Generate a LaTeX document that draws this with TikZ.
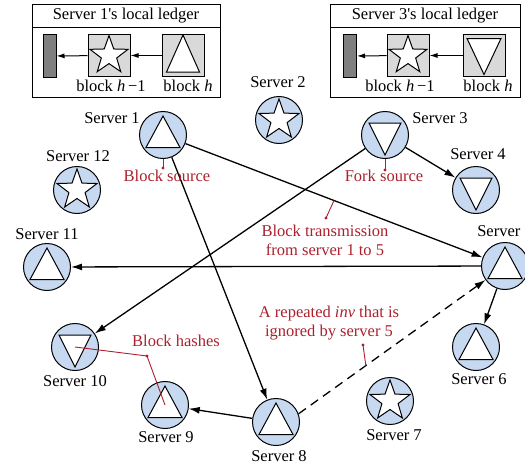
\documentclass[tikz,border=0pt]{standalone}
\usepackage{fontspec}
\setmainfont{Liberation Serif}
\usetikzlibrary{arrows.meta}
\definecolor{srvblue}{RGB}{198,217,240}
\definecolor{notered}{RGB}{172,32,45}
\definecolor{blkgray}{RGB}{217,217,217}
\definecolor{bargray}{RGB}{127,127,127}
\begin{document}
\begin{tikzpicture}[x=1pt,y=-1pt,
  every node/.style={font=\fontsize{16.5}{19}\selectfont},
  server/.style={circle,draw,line width=1pt,fill=srvblue,minimum size=47pt,inner sep=0pt},
  link/.style={line width=1.3pt,-{Latex[length=11pt,width=7pt]}},
  note/.style={color=notered,align=center},
  leader/.style={color=notered,line width=0.9pt},
  blk/.style={draw,line width=1pt,fill=blkgray,minimum size=42pt,inner sep=0pt},
  bar/.style={draw,line width=1pt,fill=bargray,minimum width=13pt,minimum height=43pt,inner sep=0pt},
  chain/.style={line width=1pt,-{Latex[length=8pt,width=5pt]}},
  upsym/.pic={\draw[line width=1pt,fill=white] (0,-19) -- (17,12.5) -- (-17,12.5) -- cycle;},
  downsym/.pic={\draw[line width=1pt,fill=white] (0,20) -- (16,-12) -- (-16,-12) -- cycle;},
  lupsym/.pic={\draw[line width=1pt,fill=white] (0,-20.5) -- (16.5,16.5) -- (-16.5,16.5) -- cycle;},
  ldownsym/.pic={\draw[line width=1pt,fill=white] (0,19) -- (17,-17) -- (-17,-17) -- cycle;},
  starsym/.pic={\draw[line width=1pt,fill=white] (-90:21) -- (-54:8.5) -- (-18:21) -- (18:8.5) -- (54:21)
     -- (90:8.5) -- (126:21) -- (162:8.5) -- (198:21) -- (234:8.5) -- cycle;}
]
  \useasboundingbox (0,0) rectangle (525,466);

  % local ledgers
  \draw[line width=1pt] (32,4.5) rectangle (220,97);
  \draw[line width=1pt] (32,27.5) -- (220,27.5);
  \node (t1) at (126,16) {Server 1\textquotesingle s local ledger};
  \node[bar] (l1g) at (49.5,56) {};
  \node[blk] (l1b) at (109,55.5) {};
  \node[blk] (l1h) at (183,55.5) {};
  \pic[scale=0.95] at (l1b) {starsym};
  \pic at (l1h) {lupsym};
  \draw[chain] (l1b) -- (l1g);
  \draw[chain] (l1h) -- (l1b);
  \node (l1bl) at (111,86) {block \textit{h}\,−1};
  \node (l1hl) at (188,86) {block \textit{h}};

  \draw[line width=1pt] (330,4.5) rectangle (520,97);
  \draw[line width=1pt] (330,27.5) -- (520,27.5);
  \node (t3) at (425,16) {Server 3\textquotesingle s local ledger};
  \node[bar] (l3g) at (350,56) {};
  \node[blk] (l3b) at (408,55.5) {};
  \node[blk] (l3h) at (484,55.5) {};
  \pic[scale=0.95] at (l3b) {starsym};
  \pic at (l3h) {ldownsym};
  \draw[chain] (l3b) -- (l3g);
  \draw[chain] (l3h) -- (l3b);
  \node (l3bl) at (400,86) {block \textit{h}\,−1};
  \node (l3hl) at (488,86) {block \textit{h}};

  % servers
  \node[server] (s1) at (163,135) {};
  \node[server] (s2) at (279,120) {};
  \node[server] (s3) at (385,135) {};
  \node[server] (s4) at (476,190) {};
  \node[server] (s5) at (505,266) {};
  \node[server] (s6) at (476,347) {};
  \node[server] (s7) at (390,401) {};
  \node[server] (s8) at (276,422) {};
  \node[server] (s9) at (165,405) {};
  \node[server] (s10) at (75,347) {};
  \node[server] (s11) at (47,267) {};
  \node[server] (s12) at (77,190) {};
  \foreach \s in {s1,s5,s6,s8,s9,s11}
     \pic at (\s) {upsym};
  \foreach \s in {s3,s4,s10}
     \pic at (\s) {downsym};
  \foreach \s in {s2,s7,s12}
     \pic at (\s) {starsym};

  \node (s1l) at (112,118) {Server 1};
  \node (s2l) at (278,82) {Server 2};
  \node (s3l) at (440,118) {Server 3};
  \node (s4l) at (478,154) {Server 4};
  \node (s5l) at (505,231) {Server 5};
  \node (s6l) at (479,379) {Server 6};
  \node (s7l) at (394,435) {Server 7};
  \node (s8l) at (279,456) {Server 8};
  \node (s9l) at (166,437) {Server 9};
  \node (s10l) at (75,381) {Server 10};
  \node (s11l) at (47,234) {Server 11};
  \node (s12l) at (78,156) {Server 12};

  % block transmission
  \draw[link] (s1) -- (s5) coordinate[pos=0.5] (bton);
  \draw[link] (s1) -- (s8);
  \draw[link] (s3) -- (s4);
  \draw[link] (s3) -- (s10);
  \draw[link] (s5) -- (s11);
  \draw[link] (s5) -- (s6);
  \draw[link] (s8) -- (s9);
  \draw[link,dashed,dash pattern=on 9pt off 6pt] (s8.20) -- (s5) coordinate[pos=0.36] (invon);

  % notes
  \coordinate (bsdot) at (163,168);
  \coordinate (fsdot) at (385,170);
  \coordinate (btdot) at (326,218);
  \coordinate (invdot) at (363,345);
  \coordinate (bhdot) at (147,356);
  \draw[leader] (s1.south) -- (bsdot);
  \draw[leader] (s3.south) -- (fsdot);
  \draw[leader] (bton) -- (btdot);
  \draw[leader] (invon) -- (invdot);
  \draw[leader] (s10.center) -- (bhdot) -- (s9.center);
  \foreach \d in {bsdot,fsdot,btdot,invdot,bhdot}
     \fill[notered] (\d) circle (1.7);

  \node[note] (bsrc) at (167,176) {Block source};
  \node[note] (fsrc) at (384,176) {Fork source};
  \node[note] (btx) at (325,240) {Block transmission\\from server 1 to 5};
  \node[note] (inv) at (329,323) {A repeated \textit{inv} that is\\ignored by server 5};
  \node[note] (bh) at (176,341) {Block hashes};
\end{tikzpicture}
\end{document}
